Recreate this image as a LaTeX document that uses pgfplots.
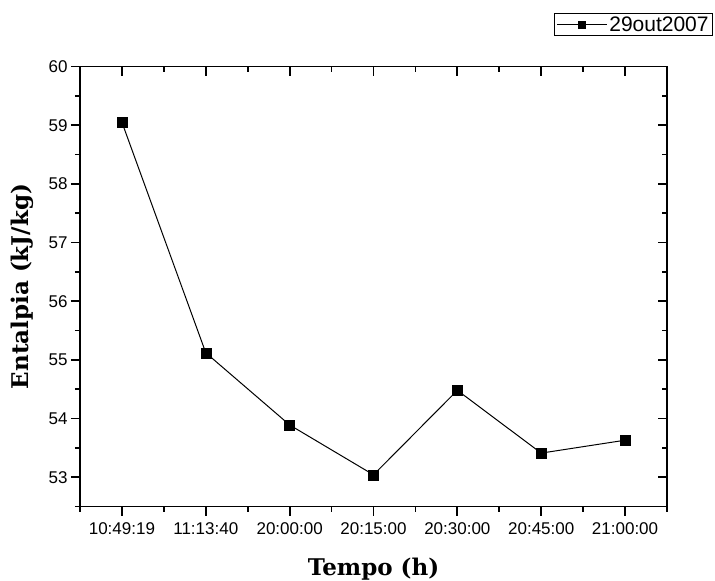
\documentclass[border=0pt]{standalone}
\usepackage{pgfplots}
\pgfplotsset{compat=1.18}
\usepackage{fontspec}
\setmainfont{Liberation Sans}
\newfontfamily\labfont{DejaVu Serif}
\begin{document}
\begin{tikzpicture}
\useasboundingbox (-80pt,-74.5pt) rectangle (635pt,506.5pt);
\pgfplotsset{
  common/.style={
    scale only axis, width=587pt, height=440pt,
    xmin=-0.5, xmax=6.5, ymin=52.5, ymax=60,
    xtick={0,...,6}, minor xtick={-0.5,0.5,...,6.5},
    ytick={53,...,60}, minor ytick={52.5,53.5,...,59.5},
    major tick length=9pt, minor tick length=5pt,
    axis line style={line width=1.8pt, black},
    tick style={line width=1.8pt, black},
  }
}
\begin{axis}[common,
  tick align=outside, xtick pos=bottom, ytick pos=left,
  xticklabels={10:49:19,11:13:40,20:00:00,20:15:00,20:30:00,20:45:00,21:00:00},
  /pgf/number format/assume math mode=true,
  ticklabel style={font=\fontsize{17}{17}\selectfont},
  xticklabel style={yshift=-4pt},
  xlabel={Tempo (h)}, ylabel={Entalpia (kJ/kg)},
  label style={font=\labfont\bfseries\fontsize{23}{23}\selectfont},
  xlabel style={at={(axis description cs:0.5,-0.143)}, anchor=center},
  ylabel style={at={(axis description cs:-0.099,0.5)}, anchor=center},
  legend style={at={(axis description cs:1.0784,1.1216)}, anchor=north east,
    draw=black, line width=0.8pt, font=\fontsize{21}{21}\selectfont,
    inner xsep=2pt, inner ysep=1pt},
  legend image code/.code={\draw[#1, mark size=3.5pt, mark repeat=2, mark phase=2] plot coordinates {(0pt,0pt) (25pt,0pt) (50pt,0pt)};},
]
\addplot[black, line width=1pt, mark=square*, mark size=5pt, mark options={solid, fill=black, line width=0.3pt}] coordinates {
  (0,59.05) (1,55.12) (2,53.89) (3,53.04) (4,54.48) (5,53.41) (6,53.63)
};
\addlegendentry{29out2007}
\end{axis}
\begin{axis}[common,
  tick align=inside, xtick pos=top, ytick pos=right,
  xticklabels={}, yticklabels={},
]
\addplot[draw=none] coordinates {(0,55)};
\end{axis}
\end{tikzpicture}
\end{document}
